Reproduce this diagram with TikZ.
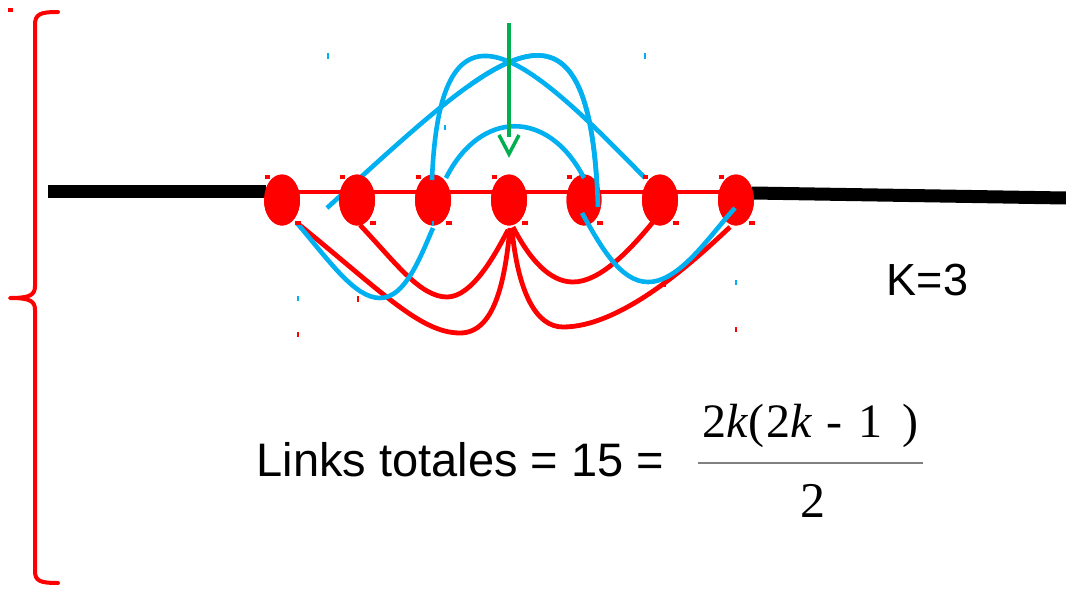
\documentclass[tikz,border=0pt]{standalone}
\usepackage{fontspec}
\setmainfont{Liberation Sans}
\newfontfamily\serifx{Liberation Serif}
\usetikzlibrary{shapes.geometric}
\definecolor{cred}{HTML}{FF0000}
\definecolor{cblue}{HTML}{00B0F0}
\definecolor{cgreen}{HTML}{00B050}
\tikzset{
  dot/.style={ellipse, fill=cred, draw=none, minimum width=36pt, minimum height=51pt, inner sep=0pt},
  redarc/.style={draw=cred, line width=4.8pt},
  bluearc/.style={draw=cblue, line width=4.6pt},
  blackline/.style={draw=black, line width=13pt},
  redsq/.style={fill=cred, draw=none},
  bluetick/.style={draw=cblue, line width=1.2pt},
  redtick/.style={draw=cred, line width=1.2pt},
  txt/.style={inner sep=0pt, anchor=base west},
}
\begin{document}
\begin{tikzpicture}[x=1pt, y=-1pt]
\useasboundingbox (0,0) rectangle (1066,589);
\fill[white] (0,0) rectangle (1066,589);

% brace
\coordinate (bt) at (58,12);
\coordinate (bm) at (10,298);
\coordinate (bb) at (58,583);
\draw[cred, line width=4pt, line cap=round, line join=round]
  (bt) .. controls (40,12) and (35,14) .. (35,25) -- (35,286)
  .. controls (35,295) and (30,298) .. (bm)
  .. controls (30,298) and (35,301) .. (35,310) -- (35,571)
  .. controls (35,581) and (40,583) .. (bb);
\fill[cred] (8,8) rectangle (13,12);

% nodes
\node[dot] (n1) at (282,200) {};
\node[dot] (n2) at (357,200) {};
\node[dot] (n3) at (433,200) {};
\node[dot] (n4) at (509,200) {};
\node[dot, minimum width=35pt] (n5) at (584,200) {};
\node[dot] (n6) at (660,200) {};
\node[dot] (n7) at (736,200) {};

% black lines
\coordinate (bl1) at (48,191);
\coordinate (br2) at (1066,198);
\draw[blackline] (bl1) -- ([shift={(-16,-9)}]n1.center);
\draw[blackline] ([shift={(16,-7)}]n7.center) -- (br2);

% red chain line
\draw[cred, line width=4.5pt] ([shift={(0,-8)}]n1.center) -- ([shift={(0,-8)}]n7.center);

% blue curve (hidden behind node 2)
\draw[bluearc] ([shift={(14,7)}]n5.center) .. controls (590,-40) and (495,55) .. ([shift={(-30,8)}]n2.center);

% redraw node bodies over chain line and curve
\foreach \x/\w in {282/36, 357/36, 433/36, 509/36, 584/35, 660/36, 736/36}
  \fill[cred] (\x,200) ellipse ({\w/2} and 25.5);

% same curve visible over node 5
\begin{scope}
  \clip (470,0) rectangle (700,300);
  \draw[bluearc] ([shift={(14,7)}]n5.center) .. controls (590,-40) and (495,55) .. ([shift={(-30,8)}]n2.center);
\end{scope}

% red bottom arcs
\draw[redarc] ([shift={(15,23)}]n1.center) .. controls (380,290) and (420,333) .. (460,333)
  .. controls (495,333) and (505,280) .. ([shift={(1,28)}]n4.center);
\draw[redarc] ([shift={(3,25)}]n2.center) .. controls (395,262) and (420,297) .. (447,297)
  .. controls (472,297) and (495,255) .. ([shift={(-1,30)}]n4.center);
\draw[redarc] ([shift={(4,27)}]n4.center) .. controls (530,260) and (550,282) .. (573,282)
  .. controls (600,282) and (630,250) .. ([shift={(-7,22)}]n6.center);
\draw[redarc] ([shift={(3,30)}]n4.center) .. controls (518,290) and (535,327) .. (563,327)
  .. controls (620,327) and (690,265) .. ([shift={(-6,27)}]n7.center);

% blue arcs
\draw[bluearc] ([shift={(-1,-20)}]n3.center) .. controls (440,-25) and (530,60) .. ([shift={(-15,-22)}]n6.center);
\draw[bluearc] ([shift={(13,-22)}]n3.center) .. controls (480,110) and (548,108) .. ([shift={(0,-22)}]n5.center);
\draw[bluearc] ([shift={(15,23)}]n1.center) .. controls (330,262) and (355,298) .. (380,298)
  .. controls (405,298) and (420,258) .. ([shift={(0,28)}]n3.center);
\draw[bluearc] ([shift={(-2,13)}]n5.center) .. controls (600,245) and (620,282) .. (648,282)
  .. controls (680,282) and (710,235) .. ([shift={(-1,8)}]n7.center);

% green arrow
\coordinate (gtop) at (509,23);
\coordinate (gend) at (509,137);
\coordinate (gtip) at (509,154);
\draw[cgreen, line width=4pt] (gtop) -- (gend);
\draw[cgreen, line width=3.5pt] ([shift={(-10,-19)}]gtip) -- (gtip) -- ([shift={(10,-19)}]gtip);

% small handle marks
\foreach \x in {282,357,433,509,584,660,736} {
  \fill[redsq] (\x-17,175) rectangle (\x-12,179);
  \fill[redsq] (\x+13,221) rectangle (\x+19,225);
}
\draw[bluetick] (328,53) -- (328,59);
\draw[bluetick] (645,53) -- (645,59);
\draw[bluetick] (445,125) -- (445,130);
\draw[bluetick] (298,296) -- (298,301);
\draw[bluetick] (736,280) -- (736,285);
\draw[bluetick] (433,221) -- (433,226);
\draw[redtick] (358,296) -- (358,302);
\draw[redtick] (298,332) -- (298,337);
\draw[redtick] (665,282) -- (665,287);
\draw[redtick] (736,327) -- (736,332);

% texts
\node[txt] (k3) at (886.5,295) {\fontsize{45}{48}\selectfont K=3};
\node[txt] (links) at (256.5,476.5) {\fontsize{47}{50}\selectfont Links totales = 15 =};
\node[txt] (num) at (702,437) {\serifx\fontsize{48}{52}\selectfont 2\textit{k}(\kern2.5pt2\textit{k}\kern14pt-\kern16pt1\kern20pt)};
\node[txt] (den) at (800.5,517) {\serifx\fontsize{50}{54}\selectfont 2};
\coordinate (fl) at (698,463);
\coordinate (fr) at (923,463);
\draw[black!50, line width=1.2pt] (fl) -- (fr);
\end{tikzpicture}
\end{document}
